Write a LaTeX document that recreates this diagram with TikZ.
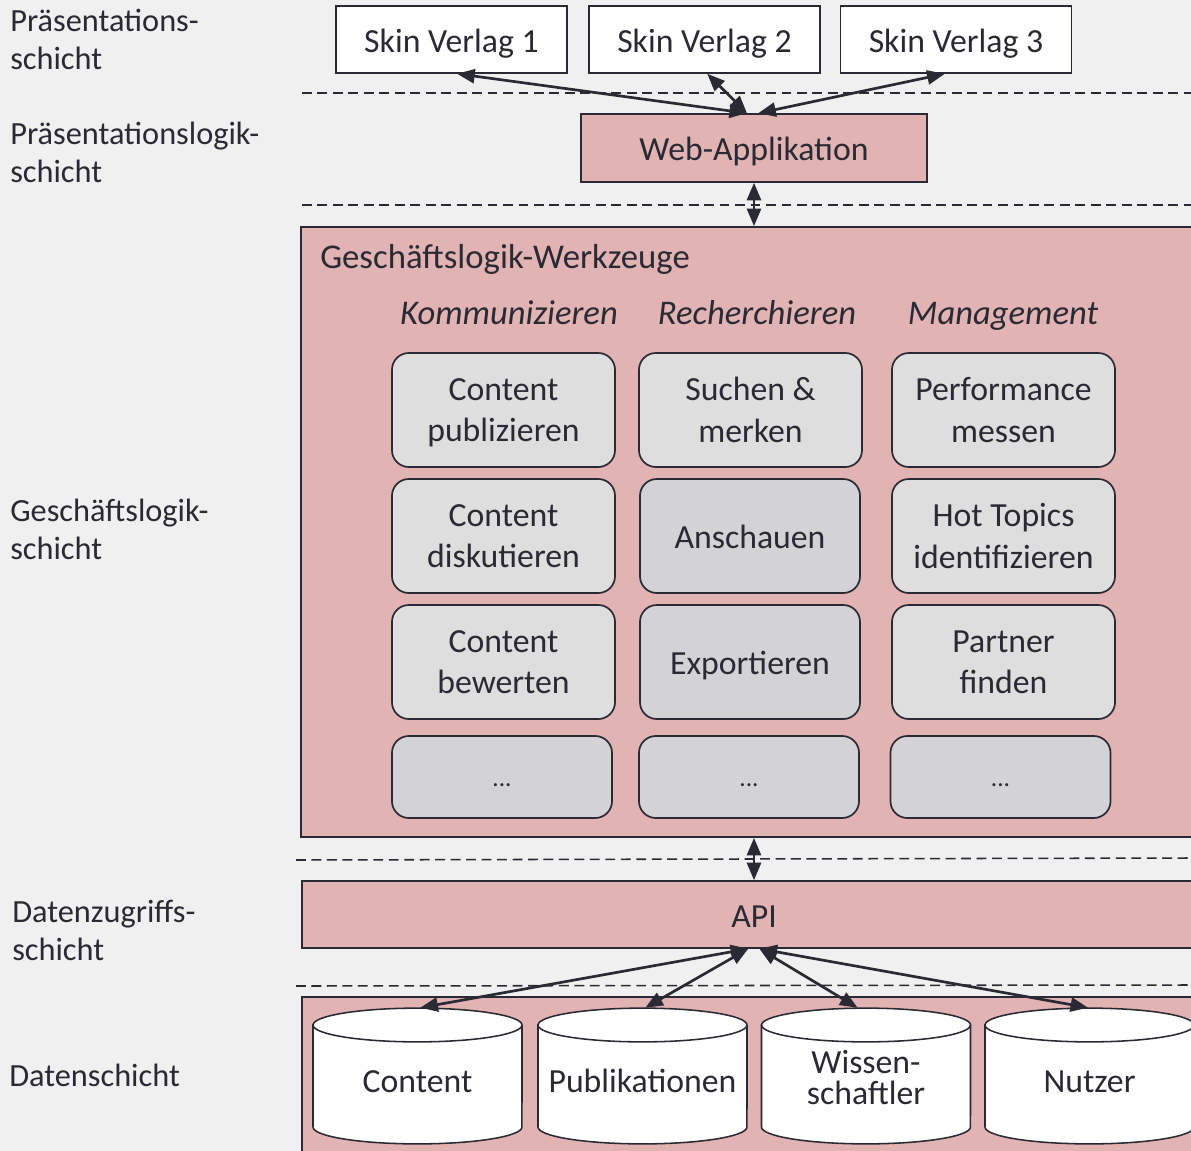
\documentclass[tikz,border=0pt]{standalone}
\usepackage{fontspec}
\setmainfont{Carlito}
\usepackage{tikz}
\usetikzlibrary{arrows.meta}
\definecolor{bgcol}{HTML}{F0F0F0}
\definecolor{layerpink}{HTML}{E2B3B3}
\definecolor{celllight}{HTML}{DEDEDE}
\definecolor{celldark}{HTML}{D3D3D6}
\definecolor{ink}{HTML}{2A2A35}

\begin{document}
\begin{tikzpicture}[
  x=0.025cm, y=-0.025cm,
  >={Triangle[length=12.5pt, width=10pt]},
  every node/.style={text=ink},
  layer label/.style={anchor=west, align=left, inner sep=0pt,
                      font=\fontsize{23}{27}\selectfont},
  one line/.style={text height=17.8pt, text depth=0pt},
  skin/.style={draw=ink, line width=1.1pt, fill=white, minimum width=5.775cm,
               minimum height=1.675cm, one line, font=\fontsize{24}{29}\selectfont},
  pinkbox/.style={draw=ink, line width=1.1pt, fill=layerpink, one line,
                  font=\fontsize{24}{29}\selectfont},
  cell/.style={draw=ink, line width=1.2pt, rounded corners=12pt, fill=celllight,
               minimum width=5.575cm, minimum height=2.85cm, align=center,
               inner sep=0pt, text depth=0pt, font=\fontsize{24}{29.5}\selectfont},
  dark cell/.style={cell, fill=celldark, minimum width=5.5cm, one line},
  more cell/.style={dark cell, minimum height=2.05cm, text height=13.3pt,
                    font=\fontsize{18}{20}\selectfont},
  head/.style={text height=18.2pt, text depth=0pt,
               font=\fontsize{24.6}{29}\selectfont\itshape},
  db line/.style={draw=ink, line width=1.1pt, fill=white},
  db text/.style={align=center, inner sep=0pt, minimum width=5.225cm,
                  minimum height=3.4cm, text height=22.8pt, text depth=0pt,
                  font=\fontsize{24}{22}\selectfont},
  sep line/.style={ink, line width=1.1pt, dash pattern=on 7pt off 4pt},
  link/.style={<->, ink, line width=1.9pt},
]

\clip (0,0) rectangle (1191,1151);
\fill[bgcol] (0,0) rectangle (1191,1151);

% === Layer names ===
\node[layer label] (lpres) at (10,39) {Pr\"asentations-\\schicht};
\node[layer label] (llogic) at (10,152) {Pr\"asentationslogik-\\schicht};
\node[layer label] (lbiz) at (10,529) {Gesch\"aftslogik-\\schicht};
\node[layer label] (lacc) at (12,930) {Datenzugriffs-\\schicht};
\node[layer label] (ldata) at (9,1075) {Datenschicht};

% === Layer separators ===
\draw[sep line] (302,93) -- (1191,93);
\draw[sep line] (302,205) -- (1191,205);
\draw[sep line] (296,860) -- (1191,858);
\draw[sep line] (296,986) -- (1191,985);

% === Skins ===
\node[skin] (skinA) at (451.5,39.5) {Skin Verlag 1};
\node[skin] (skinB) at (704.5,39.5) {Skin Verlag 2};
\node[skin] (skinC) at (956,39.5) {Skin Verlag 3};

\node[pinkbox, minimum width=8.65cm, minimum height=1.7cm] (webapp)
  at (754,148) {Web-Applikation};

% === Business logic tools ===
\node[pinkbox, minimum width=22.475cm, minimum height=15.25cm] (tools)
  at (750.5,532) {};
\node[anchor=west, inner sep=0pt, font=\fontsize{24.7}{29}\selectfont] (toolstitle)
  at (320,259) {Gesch\"aftslogik-Werkzeuge};

\node[head] (hkomm) at (509,312) {Kommunizieren};
\node[head] (hrech) at (757,312) {Recherchieren};
\node[head] (hmgmt) at (1003,312) {Management};

\foreach \name/\x/\y/\kind/\txt in {
  komm1/503.5/410/cell/{Content\\publizieren},
  komm2/503.5/536/cell/{Content\\diskutieren},
  komm3/503.5/662/cell/{Content\\bewerten},
  komm4/502/777/more cell/{...},
  rech1/750.5/410/cell/{Suchen \&\\merken},
  rech2/750/536/dark cell/{Anschauen},
  rech3/750/662/dark cell/{Exportieren},
  rech4/749/777/more cell/{...},
  mgmt1/1003.5/410/cell/{Performance\\messen},
  mgmt2/1003.5/536/cell/{Hot Topics\\identifizieren},
  mgmt3/1003.5/662/cell/{Partner\\finden},
  mgmt4/1000.5/777/more cell/{...}} {
  \node[\kind] (\name) at (\x,\y) {\txt};
}

% === Data access and data ===
\node[pinkbox, minimum width=22.45cm, minimum height=1.675cm] (api)
  at (751,914.5) {};
\node[one line, font=\fontsize{24}{29}\selectfont] (apilabel) at (754,914.5) {API};
\node[pinkbox, minimum width=22.45cm, minimum height=4.2cm] (data)
  at (751,1081) {};

% cylinders: body, then front rim of the top
\foreach \cx in {417.5,642.5,866,1089.5} {
  \draw[db line] (\cx-104.5,1025) -- (\cx-104.5,1127)
    arc[start angle=180, end angle=360, x radius=74.3pt, y radius=12pt]
    -- (\cx+104.5,1025)
    arc[start angle=0, end angle=180, x radius=74.3pt, y radius=12pt] -- cycle;
  \draw[db line, fill=none] (\cx-104.5,1025)
    arc[start angle=180, end angle=360, x radius=74.3pt, y radius=12pt];
}
\node[db text] (dbcontent) at (417.5,1076) {Content};
\node[db text] (dbpub) at (642.5,1076) {Publikationen};
\node[db text, text height=41pt] (dbsci) at (866,1076) {Wissen-\\schaftler};
\node[db text] (dbuser) at (1089.5,1076) {Nutzer};

% === Connections ===
\draw[link] ([xshift=4pt]skinA.south) -- ([xshift=-5pt]webapp.north);
\draw[link] ([xshift=2pt]skinB.south) -- ([xshift=-5pt]webapp.north);
\draw[link] ([xshift=-8pt]skinC.south) -- ([xshift=3pt]webapp.north);
\draw[link] (webapp.south) -- (webapp.south |- tools.north);
\draw[link] (webapp.south |- tools.south) -- (webapp.south |- api.north);

\draw[link] ([xshift=-2pt]api.south) -- ([xshift=2pt]dbcontent.north);
\draw[link] ([xshift=-2pt]api.south) -- ([xshift=2pt]dbpub.north);
\draw[link] ([xshift=6pt]api.south) -- ([xshift=-6pt]dbsci.north);
\draw[link] ([xshift=6pt]api.south) -- ([xshift=-1pt]dbuser.north);

\end{tikzpicture}
\end{document}
